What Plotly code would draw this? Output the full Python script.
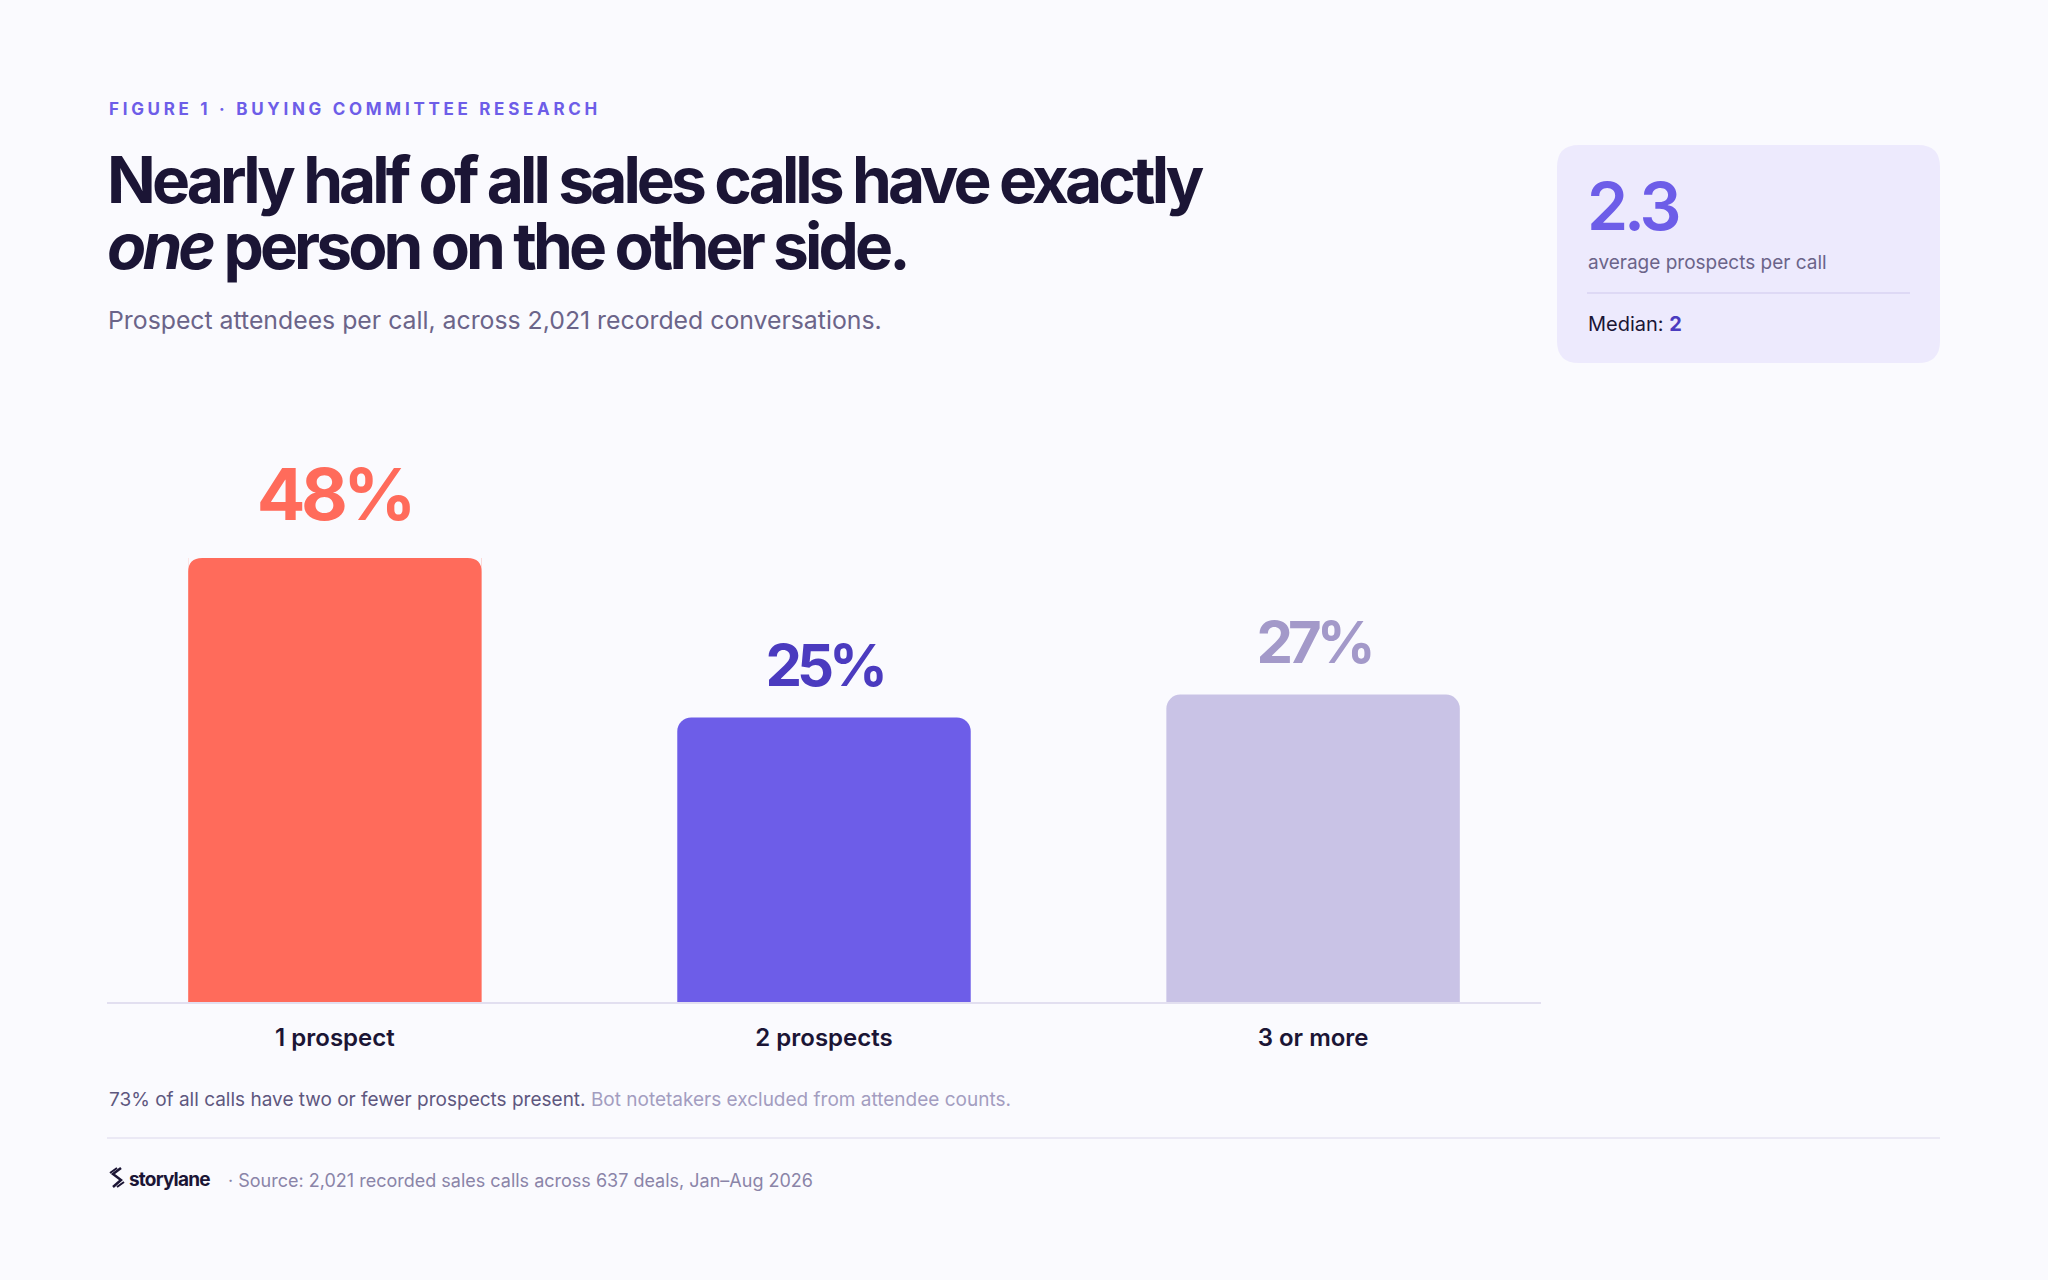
import json
import plotly.graph_objects as go

# ---------------- data ----------------
categories = ["1 prospect", "2 prospects", "3 or more"]
shares = [48, 25, 27]                      # % of calls
value_labels = ["48%", "25%", "27%"]
avg_prospects = "2.3"
median_prospects = "2"

eyebrow = "FIGURE 1 · BUYING COMMITTEE RESEARCH"
title_line1 = "Nearly half of all sales calls have exactly"
title_line2 = "<i>one</i> person on the other side."
subtitle = "Prospect attendees per call, across 2,021 recorded conversations."
footnote_main = "73% of all calls have two or fewer prospects present."
footnote_muted = "Bot notetakers excluded from attendee counts."
source = "· Source: 2,021 recorded sales calls across 637 deals, Jan–Aug 2026"
brand = "storylane"

# ---------------- style ----------------
W, H = 2048, 1280
BG = "#FAFAFE"
INK = "#1B1535"
MUTED = "#6B6489"
bar_colors = ["#FF6B5B", "#6D5DE8", "#C9C3E6"]
label_colors = ["#FF6B5B", "#4B3BBF", "#A399C9"]
label_sizes = [72, 58, 58]
label_shifts = [19, 15, 16]
FONT = "Inter"
Y_TOP = 39  # visible value scale of the plot area (tallest bar is capped)
BAR_W = 0.6
CORNER = 14  # px

X_RANGE = [-0.466, 2.466]
X_DOM = [107, 1541]
Y_DOM = [1002, 558]


def px(x):
    return x / W


def py(y):
    return 1 - y / H


def round_rect(x0, y0, x1, y1, r):
    rx, ry = r / W, r / H
    X0, X1 = px(x0), px(x1)
    Y0, Y1 = py(y0), py(y1)
    return (f"M {X0+rx},{Y0} L {X1-rx},{Y0} Q {X1},{Y0} {X1},{Y0-ry} "
            f"L {X1},{Y1+ry} Q {X1},{Y1} {X1-rx},{Y1} "
            f"L {X0+rx},{Y1} Q {X0},{Y1} {X0},{Y1+ry} "
            f"L {X0},{Y0-ry} Q {X0},{Y0} {X0+rx},{Y0} Z")


fig = go.Figure()
fig.add_trace(go.Bar(
    x=categories,
    y=shares,
    width=BAR_W,
    marker=dict(color=bar_colors, cornerradius=CORNER, line=dict(width=0)),
    hoverinfo="skip",
))

annotations = []


def txt(x, y, text, size, color, weight=400, xanchor="left", **kw):
    annotations.append(dict(
        x=px(x), y=py(y), xref="paper", yref="paper", text=text,
        showarrow=False, xanchor=xanchor, yanchor="middle", align="left",
        font=dict(family=FONT, size=size, color=color, weight=weight), **kw))


# header
txt(107, 109, eyebrow, 17, "#6D5DE8", 700)
txt(105, 179, title_line1, 64, INK, 700)
txt(105, 246, title_line2, 64, INK, 700)
txt(106, 320, subtitle, 24.8, MUTED)

# stat card
txt(1585, 206, avg_prospects, 66, "#6D5DE8", 600)
txt(1586, 262, "average prospects per call", 19, MUTED)
txt(1586, 324, f"Median: <span style='color:#4B3BBF'><b>{median_prospects}</b></span>", 20, INK)

# value labels above bars
for cat, v, lab, col, sz, sh in zip(categories, shares, value_labels, label_colors,
                                    label_sizes, label_shifts):
    annotations.append(dict(
        x=cat, y=min(v, Y_TOP), xref="x", yref="y", text=lab, showarrow=False,
        xanchor="center", yanchor="bottom", yshift=sh,
        font=dict(family=FONT, size=sz, color=col, weight=700)))

# footer
txt(107, 1099, f"{footnote_main} <span style='color:#A39DC0'>{footnote_muted}</span>", 19, "#5E577E")
txt(127, 1179, brand, 19, INK, 700)
txt(226, 1180, source, 18, "#8A84A8")

shapes = [
    dict(type="path", xref="paper", yref="paper", path=round_rect(1557, 145, 1940, 363, 22),
         fillcolor="#EDEAFD", line=dict(width=0), layer="below"),
    dict(type="line", xref="paper", yref="paper", x0=px(1587), x1=px(1910), y0=py(293), y1=py(293),
         line=dict(color="#D8D3F2", width=1.5)),
    dict(type="line", xref="paper", yref="paper", x0=px(107), x1=px(1940), y0=py(1138), y1=py(1138),
         line=dict(color="#E6E3F2", width=1.5)),
    # brand mark
    dict(type="path", xref="paper", yref="paper",
         path=(f"M {px(121)},{py(1168)} L {px(113)},{py(1174)} L {px(121)},{py(1180)} "
               f"L {px(113)},{py(1187)}"),
         line=dict(color=INK, width=2.5)),
    dict(type="path", xref="paper", yref="paper",
         path=(f"M {px(117)},{py(1168)} L {px(110)},{py(1173)} M {px(124)},{py(1182)} L {px(117)},{py(1187)}"),
         line=dict(color=INK, width=2)),
]

# keep rounded tops on bars capped by the visible scale (background-coloured corner masks)
x_unit = (X_DOM[1] - X_DOM[0]) / (X_RANGE[1] - X_RANGE[0])   # px per category
y_unit = (Y_DOM[0] - Y_DOM[1]) / Y_TOP                        # px per %
rx, ry = CORNER / x_unit, CORNER / y_unit
for i, v in enumerate(shares):
    if v > Y_TOP:
        xl, xr, yt = i - BAR_W / 2, i + BAR_W / 2, Y_TOP
        shapes.append(dict(
            type="path", xref="x", yref="y", layer="above", fillcolor=BG, line=dict(width=0),
            path=f"M {xl},{yt} L {xl+rx},{yt} Q {xl},{yt} {xl},{yt-ry} Z"))
        shapes.append(dict(
            type="path", xref="x", yref="y", layer="above", fillcolor=BG, line=dict(width=0),
            path=f"M {xr},{yt} L {xr-rx},{yt} Q {xr},{yt} {xr},{yt-ry} Z"))

fig.update_layout(
    width=W, height=H,
    margin=dict(l=0, r=0, t=0, b=0),
    paper_bgcolor=BG, plot_bgcolor=BG,
    showlegend=False,
    annotations=annotations,
    shapes=shapes,
    xaxis=dict(
        domain=[px(X_DOM[0]), px(X_DOM[1])],
        range=X_RANGE,
        showgrid=False, zeroline=False,
        showline=True, linecolor="#E2DFF0", linewidth=2,
        ticks="", ticklabelstandoff=13,
        tickfont=dict(family=FONT, size=24, color=INK, weight=600),
        fixedrange=True,
    ),
    yaxis=dict(
        domain=[py(Y_DOM[0]), py(Y_DOM[1])],
        range=[0, Y_TOP],
        showgrid=False, zeroline=False, showline=False,
        showticklabels=False, fixedrange=True,
    ),
)

# typographic letter-spacing (CSS) for texts whose start matches
letter_spacing = {
    "FIGURE 1": "3.7px",
    "Nearly half": "-3.9px",
    "one person": "-3.9px",
    "2.3": "-4px",
    "48%": "-4.5px",
    "25%": "-5px",
    "27%": "-5px",
    "storylane": "-0.8px",
}

post_script = (
    "document.body.style.margin='0';"
    "var LS=" + json.dumps(letter_spacing) + ";"
    "function applyLS(){document.querySelectorAll('text.annotation-text').forEach(function(t){"
    "var s=t.textContent;for(var k in LS){if(s.indexOf(k)===0){t.style.letterSpacing=LS[k];}}});}"
    "applyLS();"
    "var gd=document.getElementById('{plot_id}');"
    "if(gd&&gd.on){gd.on('plotly_afterplot',applyLS);}"
)

fig.write_html("out.html", config={"displayModeBar": False}, post_script=post_script)
